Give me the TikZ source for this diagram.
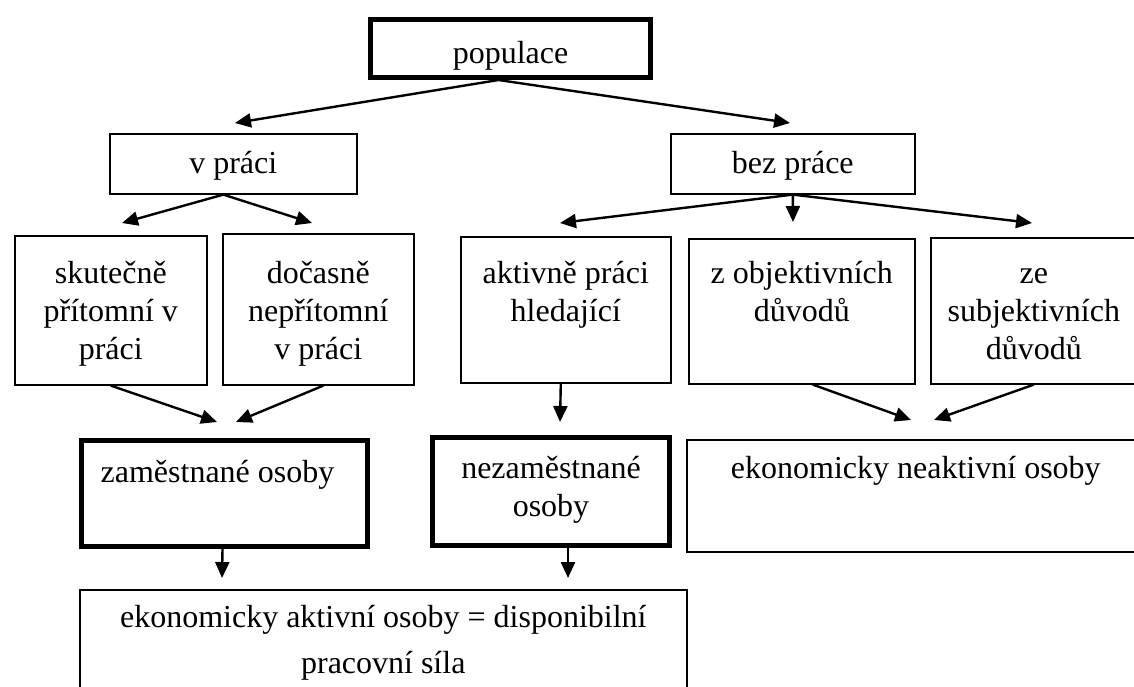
\documentclass[tikz,border=0pt]{standalone}
\usepackage{fontspec}
\setmainfont{Liberation Serif}
\usetikzlibrary{arrows.meta}

\tikzset{
  cell/.style={draw, line width=1.6pt, inner sep=0pt, anchor=north west},
  heavycell/.style={cell, line width=5pt},
  celltext/.style={align=center, anchor=north, inner sep=0pt,
    font=\fontsize{32}{38}\selectfont},
  link/.style={line width=2.4pt, -{Triangle[length=16pt,width=14pt]}}
}

\begin{document}
\begin{tikzpicture}[x=1pt,y=-1pt]
\useasboundingbox (0,0) rectangle (1134,686);
\clip (0,0) rectangle (1134,686);

% Level 1
\node[heavycell, minimum width=280pt, minimum height=58pt,
  label={[celltext, yshift=-19.4pt]north:{\strut populace}}] (pop) at (368,17) {};

% Level 2
\node[cell, minimum width=247pt, minimum height=60pt,
  label={[celltext, yshift=-13.4pt]north:{\strut v práci}}] (vprace) at (109,133) {};
\node[cell, minimum width=244pt, minimum height=60pt,
  label={[celltext, yshift=-13.4pt]north:{\strut bez práce}}] (bezprace) at (670,133) {};

% Level 3
\node[cell, minimum width=192pt, minimum height=149pt,
  label={[celltext, yshift=-21.4pt]north:{\strut skutečně\\přítomní v\\práci}}] (skut) at (14,235) {};
\node[cell, minimum width=191pt, minimum height=151pt,
  label={[celltext, yshift=-23.4pt]north:{\strut dočasně\\nepřítomní\\v práci}}] (docas) at (222,233) {};
\node[cell, minimum width=210pt, minimum height=146pt,
  label={[celltext, yshift=-20.4pt]north:{\strut aktivně práci\\hledající}}] (aktiv) at (460,236) {};
\node[cell, minimum width=226pt, minimum height=145pt,
  label={[celltext, yshift=-18.4pt]north:{\strut z objektivních\\důvodů}}] (zobj) at (688,238) {};
\node[cell, minimum width=206pt, minimum height=146pt,
  label={[celltext, yshift=-19.4pt]north:{\strut ze\\subjektivních\\důvodů}}] (zesubj) at (930,237) {};

% Level 4
\node[heavycell, minimum width=286pt, minimum height=106pt,
  label={[celltext, xshift=-7pt, yshift=-17.4pt]north:{\strut zaměstnané osoby}}] (zam) at (79,438) {};
\node[heavycell, minimum width=237pt, minimum height=108pt,
  label={[celltext, yshift=-16.4pt]north:{\strut nezaměstnané\\osoby}}] (nezam) at (430,435) {};
\node[cell, minimum width=458pt, minimum height=112pt,
  label={[celltext, yshift=-12.4pt]north:{\strut ekonomicky neaktivní osoby}}] (neakt) at (686,439) {};

% Level 5
\node[cell, minimum width=607pt, minimum height=130pt,
  label={[celltext, font=\fontsize{32}{46}\selectfont, yshift=-5.8pt]north:{\strut ekonomicky aktivní osoby = disponibilní\\pracovní síla}}] (aktivni) at (79,589) {};

% Arrow ends
\coordinate (t-vprace) at (235,123);
\coordinate (t-bezprace) at (790,123);
\coordinate (t-skut) at (122,223);
\coordinate (t-docas) at (312,223);
\coordinate (t-aktiv) at (560,223);
\coordinate (t-zobj) at (793,222);
\coordinate (t-zesubj) at (1032,223);
\coordinate (t-zam1) at (217,422);
\coordinate (t-zam2) at (236,422);
\coordinate (t-nezam) at (560,422);
\coordinate (t-neakt1) at (911,420);
\coordinate (t-neakt2) at (934,420);
\coordinate (t-aktivni1) at (222,578);
\coordinate (t-aktivni2) at (568,578);

% Arrows
\draw[link] ([xshift=-12pt]pop.south) -- (t-vprace);
\draw[link] ([xshift=-12pt]pop.south) -- (t-bezprace);
\draw[link] ([xshift=-10pt]vprace.south) -- (t-skut);
\draw[link] ([xshift=-10pt]vprace.south) -- (t-docas);
\draw[link] (bezprace.south) -- (t-aktiv);
\draw[link] (bezprace.south) -- (t-zobj);
\draw[link] (bezprace.south) -- (t-zesubj);
\draw[link] (skut.south) -- (t-zam1);
\draw[link] ([xshift=5pt]docas.south) -- (t-zam2);
\draw[link] ([xshift=-5pt]aktiv.south) -- (t-nezam);
\draw[link] ([xshift=11pt]zobj.south) -- (t-neakt1);
\draw[link] (zesubj.south) -- (t-neakt2);
\draw[link] ([xshift=-2pt]zam.south) -- (t-aktivni1);
\draw[link] ([xshift=17pt]nezam.south) -- (t-aktivni2);

\end{tikzpicture}
\end{document}
